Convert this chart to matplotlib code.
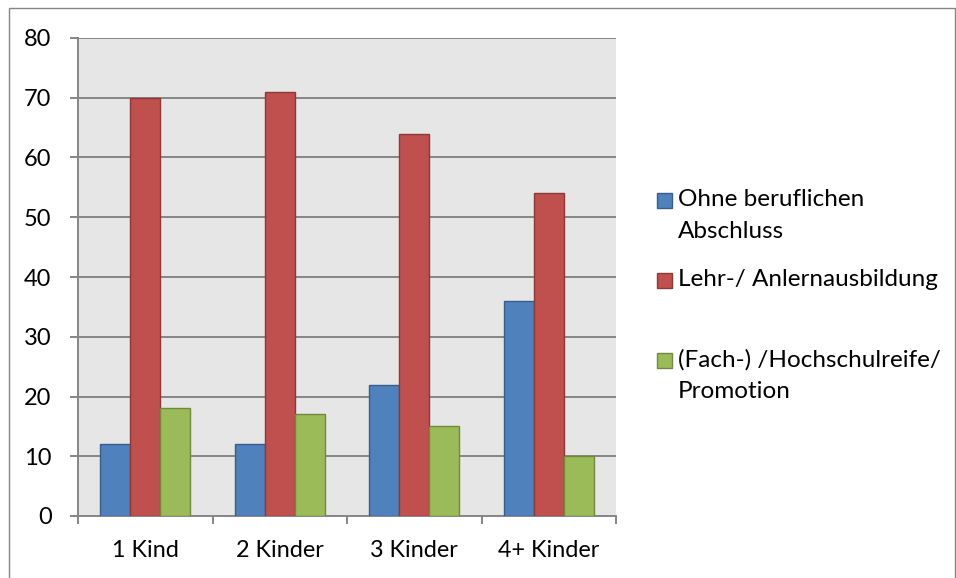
import matplotlib
matplotlib.use("Agg")
import matplotlib.pyplot as plt
from matplotlib.patches import Rectangle
import numpy as np

plt.rcParams['font.family'] = ['Lato', 'DejaVu Sans']

categories = ["1 Kind", "2 Kinder", "3 Kinder", "4+ Kinder"]
series_names = ["Ohne beruflichen\nAbschluss", "Lehr-/ Anlernausbildung",
                "(Fach-) /Hochschulreife/\nPromotion"]
ohne = [12, 12, 22, 36]
lehr = [70, 71, 64, 54]
fach = [18, 17, 15, 10]
yticks = [0, 10, 20, 30, 40, 50, 60, 70, 80]

faces = ["#4F81BD", "#C0504D", "#9BBB59"]
edges = ["#385D8A", "#8C3836", "#71893F"]
grey = "#868686"

W, H = 956, 578
fig = plt.figure(figsize=(W / 100, H / 100), dpi=100)
ax = fig.add_axes([78 / W, 1 - 516 / H, (616 - 78) / W, (516 - 38) / H])
ax.set_facecolor("#E6E6E6")

x = np.arange(len(categories))
bw = 1 / 4.5
for i, vals in enumerate([ohne, lehr, fach]):
    ax.bar(x + (i - 1) * bw, vals, width=bw, color=faces[i], edgecolor=edges[i],
           linewidth=1.0, zorder=3)

ax.set_xlim(-0.5, len(categories) - 0.5)
ax.set_ylim(0, 80)
ax.set_yticks(yticks)
ax.set_yticklabels([str(v) for v in yticks], fontsize=17)
ax.yaxis.grid(True, color=grey, linewidth=1.4, zorder=1)
ax.set_axisbelow(True)

ax.set_xticks(x)
ax.set_xticklabels(categories, fontsize=16.8)
ax.set_xticks(np.arange(-0.5, len(categories)), minor=True)
ax.tick_params(axis='x', which='major', length=0, pad=17)
ax.tick_params(axis='x', which='minor', length=6, color=grey, width=1.4)
ax.tick_params(axis='y', length=6, color=grey, width=1.4, pad=13)

for s in ["top", "right"]:
    ax.spines[s].set_visible(False)
for s in ["left", "bottom"]:
    ax.spines[s].set_color(grey)
    ax.spines[s].set_linewidth(1.4)

# legend drawn manually
for i, name in enumerate(series_names):
    cy = 200 + i * 80
    fig.patches.append(Rectangle((657 / W, 1 - (cy + 7.5) / H), 15 / W, 15 / H,
                                 transform=fig.transFigure, facecolor=faces[i],
                                 edgecolor=edges[i], linewidth=1.0))
    for j, line in enumerate(name.split("\n")):
        fig.text(678 / W, 1 - (cy + j * 31) / H, line, fontsize=17.5,
                 va='center', ha='left')

# outer border
fig.patches.append(Rectangle((8.5 / W, -0.01), (955 - 8.5) / W, 1 - 8.5 / H + 0.01,
                             transform=fig.transFigure, fill=False,
                             edgecolor=grey, linewidth=1.0))

fig.savefig("out.png", dpi=100)
